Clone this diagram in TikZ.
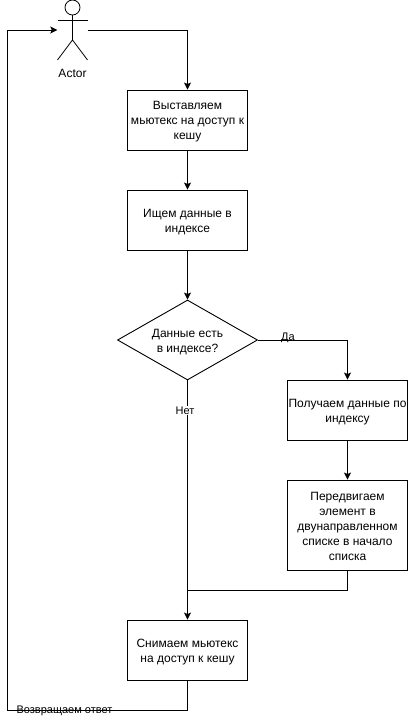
\documentclass[tikz,border=0pt]{standalone}
\usepackage{fontspec}
\setmainfont{Liberation Sans}
\usetikzlibrary{arrows.meta,shapes.geometric}
\newcommand{\lift}{\rule{0pt}{12pt}}
\tikzset{
  x=1pt,y=-1pt,
  flowbox/.style={draw=black,line width=0.9pt,fill=white,minimum width=120pt,inner sep=0pt,align=center,font=\fontsize{12}{15}\selectfont},
  decision/.style={diamond,draw=black,line width=0.9pt,fill=white,minimum width=140pt,minimum height=80pt,inner sep=0pt,align=center,aspect=1.75,font=\fontsize{12}{15}\selectfont},
  flow/.style={draw=black,line width=0.9pt,-{Stealth[length=7pt,width=7pt,inset=1.5pt]}},
  plainflow/.style={draw=black,line width=0.9pt},
  limb/.style={draw=black,line width=0.8pt},
  edgetext/.style={font=\fontsize{11}{13}\selectfont,inner sep=1pt},
}
\begin{document}
\begin{tikzpicture}
\useasboundingbox (0,0) rectangle (408,719);
% actor
\node[minimum width=30pt,minimum height=60pt,inner sep=0pt] (actor) at (72.5,30) {};
\draw[limb] (72.5,7.5) circle (7.5);
\draw[limb] (72.5,15) -- (72.5,40);
\draw[limb] (57.5,20) -- (87.5,20);
\draw[limb] (57.5,60) -- (72.5,40) -- (87.5,60);
\node[font=\fontsize{12}{14}\selectfont,inner sep=0pt] (actorlabel) at (72.5,73.5) {Actor};
% boxes
\node[flowbox,minimum height=60pt] (lock) at (187.5,120) {\lift Выставляем\\мьютекс на доступ к\\кешу};
\node[flowbox,minimum height=60pt] (search) at (187.5,220) {\lift Ищем данные в\\индексе};
\node[decision] (found) at (187.5,340) {\lift Данные есть\\в индексе?};
\node[flowbox,minimum height=60pt] (get) at (347.5,410) {\lift Получаем данные по\\индексу};
\node[flowbox,minimum height=90pt] (move) at (347.5,525) {\lift Передвигаем\\элемент в\\двунаправленном\\списке в начало\\списка};
\node[flowbox,minimum height=60pt] (unlock) at (187.5,650) {\lift Снимаем мьютекс\\на доступ к кешу};
\coordinate (retl) at (7.5,710);
\coordinate (rett) at (7.5,30);
\coordinate (join) at (187.5,590);
% connectors
\draw[flow] (actor.east) -| (lock.north);
\draw[flow] (lock) -- (search);
\draw[flow] (search) -- (found);
\draw[flow] (found.east) -| (get.north);
\draw[flow] (get) -- (move);
\draw[flow] (found.south) -- (unlock.north);
\draw[plainflow] (move.south) |- (join);
\draw[flow] (unlock.south) |- (retl) -- (rett) -- (actor.west);
% labels
\node[edgetext] (yes) at (288,337.5) {Да};
\node[edgetext,fill=white] (no) at (185,410.5) {Нет};
\node[edgetext] (ret) at (64.5,711) {Возвращаем ответ};
\end{tikzpicture}
\end{document}
